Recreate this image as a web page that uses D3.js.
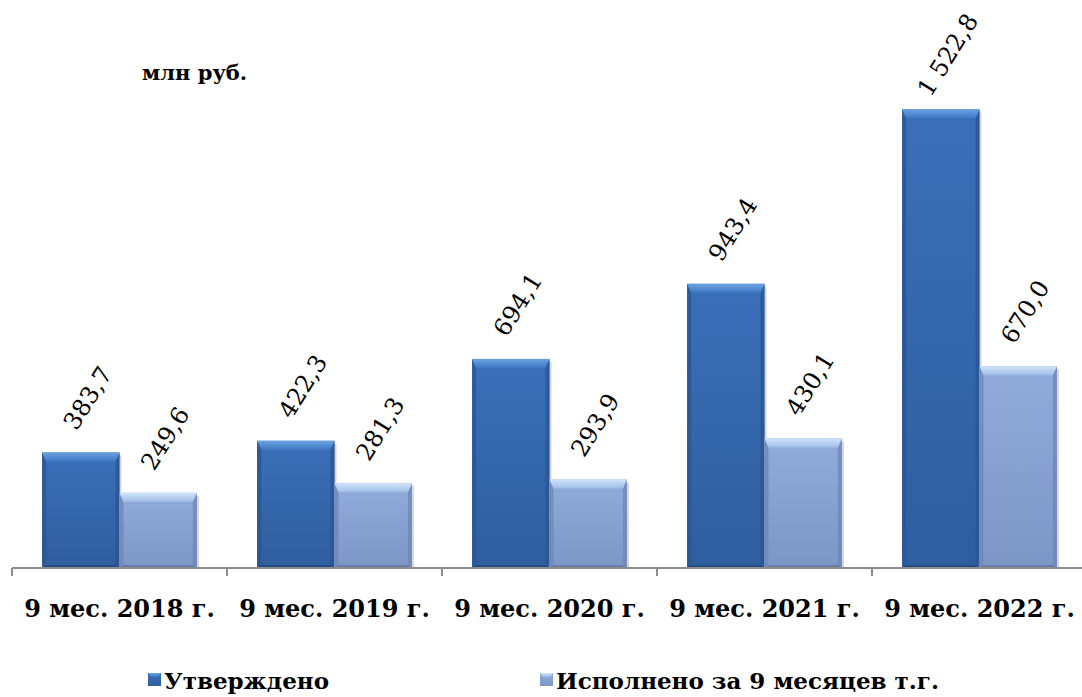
<!DOCTYPE html>
<html>
<head>
<meta charset="utf-8">
<script src="https://cdn.jsdelivr.net/npm/d3@7"></script>
<style>
  body { margin: 0; background: #fff; }
</style>
</head>
<body>
<div id="chart"></div>
<script>
// chart data
var categories = ["9 мес. 2018 г.", "9 мес. 2019 г.", "9 мес. 2020 г.", "9 мес. 2021 г.", "9 мес. 2022 г."];
var seriesNames = ["Утверждено", "Исполнено за 9 месяцев т.г."];
var approved = [383.7, 422.3, 694.1, 943.4, 1522.8];
var executed = [249.6, 281.3, 293.9, 430.1, 670.0];
var valueLabels = [
  ["383,7", "422,3", "694,1", "943,4", "1 522,8"],
  ["249,6", "281,3", "293,9", "430,1", "670,0"]
];

var serif = "'DejaVu Serif', serif";
var svgWidth = 1082;
var svgHeight = 697;
var baseY = 568;

var svg = d3.select("#chart")
  .append("svg")
  .attr("width", svgWidth)
  .attr("height", svgHeight);

var defs = svg.append("defs");

// colour sets for the bevelled bars
var palettes = [
  { face: ["#3a6fb8", "#2f5e9f"], top: ["#6aa2e2", "#3f78c2"], side: "#2a5591", bottom: "#244c83" },
  { face: ["#91acdb", "#7c96c6"], top: ["#d0e4fa", "#9fbde6"], side: "#6f87b8", bottom: "#687ea9" }
];

palettes.forEach(function(p, i) {
  var g = defs.append("linearGradient").attr("id", "face" + i)
    .attr("x1", 0).attr("y1", 0).attr("x2", 0).attr("y2", 1);
  g.append("stop").attr("offset", "0%").attr("stop-color", p.face[0]);
  g.append("stop").attr("offset", "100%").attr("stop-color", p.face[1]);
  var t = defs.append("linearGradient").attr("id", "top" + i)
    .attr("x1", 0).attr("y1", 0).attr("x2", 0).attr("y2", 1);
  t.append("stop").attr("offset", "0%").attr("stop-color", p.top[0]);
  t.append("stop").attr("offset", "100%").attr("stop-color", p.top[1]);
});

var x0 = d3.scaleBand()
  .domain(categories)
  .range([12, 1087])
  .paddingInner(0.28)
  .paddingOuter(0.14);

var x1 = d3.scaleBand()
  .domain([0, 1])
  .range([0, x0.bandwidth()]);

var y = d3.scaleLinear()
  .domain([0, 1600])
  .range([baseY, 86]);

var rows = [];
categories.forEach(function(c, i) {
  rows.push({ cat: c, s: 0, v: approved[i], label: valueLabels[0][i] });
  rows.push({ cat: c, s: 1, v: executed[i], label: valueLabels[1][i] });
});

// "млн руб." caption
svg.append("text")
  .attr("x", 142)
  .attr("y", 80)
  .attr("font-family", serif)
  .attr("font-size", 21)
  .attr("font-weight", "bold")
  .text("млн руб.");

// bars with bevel
var bars = svg.append("g").selectAll("g.bar")
  .data(rows)
  .enter()
  .append("g")
  .attr("class", "bar");

bars.each(function(d) {
  var g = d3.select(this);
  var p = palettes[d.s];
  var xl = x0(d.cat) + x1(d.s);
  var w = x1.bandwidth();
  var xr = xl + w;
  var yt = y(d.v);
  var yb = y(0);
  var bv = 9, sv = 4;

  g.append("rect")
    .attr("x", xr).attr("y", yt + 3)
    .attr("width", 2).attr("height", yb - yt - 3)
    .attr("fill", "#d6d6d6");
  g.append("rect")
    .attr("x", xl).attr("y", yt)
    .attr("width", w).attr("height", yb - yt)
    .attr("fill", "url(#face" + d.s + ")");
  // left and right sides
  g.append("polygon")
    .attr("points", [[xl, yt], [xl + sv, yt + bv], [xl + sv, yb - 3], [xl, yb]].join(" "))
    .attr("fill", p.side).attr("opacity", 0.8);
  g.append("polygon")
    .attr("points", [[xr, yt], [xr - sv, yt + bv], [xr - sv, yb - 3], [xr, yb]].join(" "))
    .attr("fill", p.side).attr("opacity", 0.8);
  // bottom
  g.append("polygon")
    .attr("points", [[xl, yb], [xl + sv, yb - 3], [xr - sv, yb - 3], [xr, yb]].join(" "))
    .attr("fill", p.bottom);
  // top bevel
  g.append("polygon")
    .attr("points", [[xl, yt], [xr, yt], [xr - sv, yt + bv], [xl + sv, yt + bv]].join(" "))
    .attr("fill", "url(#top" + d.s + ")");
});

// value labels, rotated
svg.append("g").selectAll("text")
  .data(rows)
  .enter()
  .append("text")
  .attr("transform", function(d) {
    var cx = x0(d.cat) + x1(d.s) + x1.bandwidth() / 2;
    return "translate(" + (cx + 14) + "," + (y(d.v) - 50) + ") rotate(-58)";
  })
  .attr("text-anchor", "middle")
  .attr("font-family", serif)
  .attr("font-size", 24)
  .attr("fill", "#000")
  .text(function(d) { return d.label; });

// x axis
var axis = svg.append("g");
axis.append("line")
  .attr("x1", 12).attr("x2", svgWidth)
  .attr("y1", baseY).attr("y2", baseY)
  .attr("stroke", "#8c8c8c").attr("stroke-width", 2);

var boundaries = categories.map(function(c) { return x0(c) - x0.step() * 0.14; });
boundaries.push(x0(categories[categories.length - 1]) + x0.bandwidth() + x0.step() * 0.14);
axis.selectAll("line.tick")
  .data(boundaries)
  .enter()
  .append("line")
  .attr("class", "tick")
  .attr("x1", d => d).attr("x2", d => d)
  .attr("y1", baseY).attr("y2", baseY + 8)
  .attr("stroke", "#8c8c8c").attr("stroke-width", 2);

axis.selectAll("text")
  .data(categories)
  .enter()
  .append("text")
  .attr("x", d => x0(d) + x0.bandwidth() / 2)
  .attr("y", 617)
  .attr("text-anchor", "middle")
  .attr("font-family", serif)
  .attr("font-size", 24)
  .attr("font-weight", "bold")
  .text(d => d);

// legend
var legendX = [148, 540];
var legend = svg.append("g").selectAll("g")
  .data(seriesNames)
  .enter()
  .append("g")
  .attr("transform", (d, i) => "translate(" + legendX[i] + ",673)");

legend.append("rect")
  .attr("width", 13).attr("height", 13)
  .attr("fill", (d, i) => "url(#face" + i + ")");
legend.append("polygon")
  .attr("points", "0,0 13,0 10,4 3,4")
  .attr("fill", (d, i) => "url(#top" + i + ")");

legend.append("text")
  .attr("x", 16)
  .attr("y", 16)
  .attr("font-family", serif)
  .attr("font-size", 23)
  .attr("font-weight", "bold")
  .text(d => d);
</script>
</body>
</html>
